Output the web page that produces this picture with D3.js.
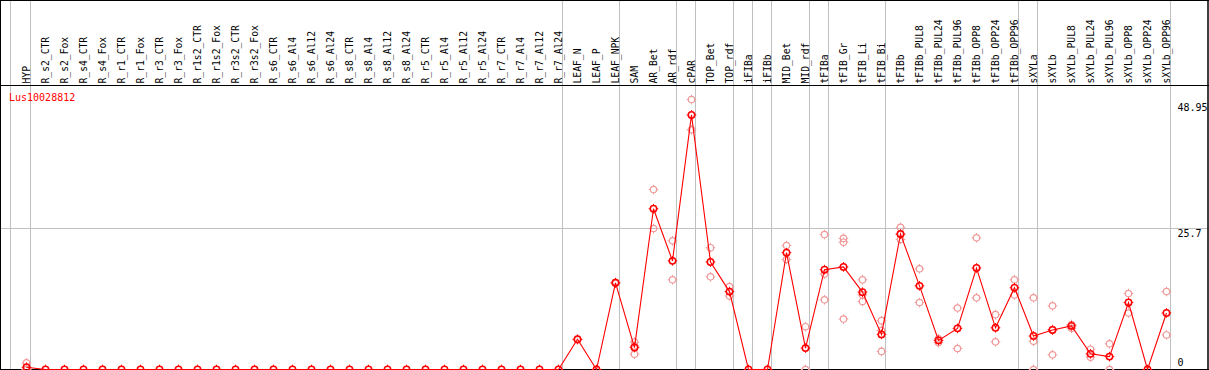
<!DOCTYPE html>
<html><head><meta charset="utf-8">
<script src="https://cdn.jsdelivr.net/npm/d3@7"></script>
<style>html,body{margin:0;padding:0;background:#fff;}svg{display:block;}</style>
</head><body>
<script>
const categories = ["HYP","R_s2_CTR","R_s2_Fox","R_s4_CTR","R_s4_Fox","R_r1_CTR","R_r1_Fox","R_r3_CTR","R_r3_Fox","R_r1s2_CTR","R_r1s2_Fox","R_r3s2_CTR","R_r3s2_Fox","R_s6_CTR","R_s6_Al4","R_s6_Al12","R_s6_Al24","R_s8_CTR","R_s8_Al4","R_s8_Al12","R_s8_Al24","R_r5_CTR","R_r5_Al4","R_r5_Al12","R_r5_Al24","R_r7_CTR","R_r7_Al4","R_r7_Al12","R_r7_Al24","LEAF_N","LEAF_P","LEAF_NPK","SAM","AR_Bet","AR_rdf","cPAR","TOP_Bet","TOP_rdf","iFIBa","iFIBb","MID_Bet","MID_rdf","tFIBa","tFIB_Gr","tFIB_Li","tFIB_Bi","tFIBb","tFIBb_PUL8","tFIBb_PUL24","tFIBb_PUL96","tFIBb_OPP8","tFIBb_OPP24","tFIBb_OPP96","sXYLa","sXYLb","sXYLb_PUL8","sXYLb_PUL24","sXYLb_PUL96","sXYLb_OPP8","sXYLb_OPP24","sXYLb_OPP96"];
const means = [0.4,0,0,0,0,0,0,0,0,0,0,0,0,0,0,0,0,0,0,0,0,0,0,0,0,0,0,0,0,
  5.5,0,15.8,4.0,29.3,19.8,46.4,19.6,14.2,0,0,21.3,3.9,18.2,18.7,14.1,6.4,24.7,15.25,5.3,7.5,18.5,7.6,14.9,6.1,7.2,7.95,2.85,2.35,12.2,0,10.3];
const N = null;
const rep1 = [1.2,N,N,N,N,N,N,N,N,N,N,N,N,N,N,N,N,N,N,N,N,N,N,N,N,N,N,N,N,
  5.5,N,15.9,5.0,32.8,23.45,49.2,22.2,15.1,N,N,22.6,7.8,24.6,23.9,16.35,8.9,25.9,18.35,5.6,11.2,24.0,10.0,16.35,13.07,11.6,8.2,3.7,4.68,13.85,N,14.2];
const rep2 = [0,N,N,N,N,N,N,N,N,N,N,N,N,N,N,N,N,N,N,N,N,N,N,N,N,N,N,N,N,
  5.4,N,15.7,4.3,25.7,16.35,43.7,16.9,13.4,N,N,20.05,0,17.4,23.2,13.6,7.1,24.6,12.2,4.9,3.83,13.07,5.05,13.6,5.17,7.3,7.5,2.25,0,10.3,N,6.3];
const rep3 = [0,N,N,N,N,N,N,N,N,N,N,N,N,N,N,N,N,N,N,N,N,N,N,N,N,N,N,N,N,
  N,N,N,2.8,N,N,N,N,N,N,N,N,N,12.7,9.2,12.4,3.3,23.7,N,N,N,N,N,N,0,2.67,N,N,N,N,N,N];
const groupEnds = [0,28,31,34,35,37,38,39,41,42,45,52,53,60]; // index of last column in each group
const yTicks = [48.95, 25.7, 0];
const geneName = "Lus10028812";

const W = 1209, H = 370;
const svg = d3.select("body").append("svg").attr("width", W).attr("height", H);
const font = "'DejaVu Sans Mono', 'Liberation Mono', monospace";

const x = d3.scaleLinear().domain([0, 60]).range([26.5, 26.5 + 19*60]);
const y = d3.scaleLinear().domain([0, 25.7]).range([369.5, 228.5]);

// group separators
const sepX = [x(0) - 16, ...groupEnds.map(k => x(k) + 4)];
svg.append("g").selectAll("line").data(sepX).join("line")
  .attr("x1", d => d).attr("x2", d => d).attr("y1", 0).attr("y2", H)
  .attr("stroke", "#c0c0c0").attr("stroke-width", 1);

// horizontal gridline at 25.7
svg.append("line").attr("x1", 0).attr("x2", W).attr("y1", y(25.7)).attr("y2", y(25.7))
  .attr("stroke", "#c0c0c0").attr("stroke-width", 1);

// borders
svg.append("line").attr("x1", 0).attr("x2", W).attr("y1", 0.5).attr("y2", 0.5).attr("stroke", "#000");
svg.append("line").attr("x1", 0).attr("x2", W).attr("y1", 85.5).attr("y2", 85.5).attr("stroke", "#000");
svg.append("line").attr("x1", 0.5).attr("x2", 0.5).attr("y1", 0).attr("y2", H).attr("stroke", "#000");
svg.append("line").attr("x1", 1208).attr("x2", 1208).attr("y1", 0).attr("y2", H).attr("stroke", "#000").attr("stroke-width", 1.5);
svg.append("line").attr("x1", 0).attr("x2", W).attr("y1", y(0)).attr("y2", y(0)).attr("stroke", "#000");

// category labels
svg.append("g").selectAll("text").data(categories).join("text")
  .attr("transform", (d, i) => `translate(${x(i) + 3},83.5) rotate(-90)`)
  .attr("font-family", font).attr("font-size", "9.7px").attr("fill", "#000")
  .text(d => d);

// y labels
const yLab = svg.append("g").attr("font-family", font).attr("font-size", "10px").attr("fill", "#000");
yLab.selectAll("text").data(yTicks).join("text")
  .attr("x", 1177.5)
  .attr("y", d => d === 0 ? y(0) - 4 : (d === 25.7 ? y(d) + 8.5 : y(d) + 10))
  .text(d => d);

// gene name
svg.append("text").attr("x", 9).attr("y", 101).attr("font-family", font).attr("font-size", "10px")
  .attr("fill", "#ff0000").text(geneName);

function marker(g, cx, cy, color, sw) {
  const r = 3.2;
  g.append("circle").attr("cx", cx).attr("cy", cy).attr("r", r)
    .attr("fill", "none").attr("stroke", color).attr("stroke-width", sw);
  [[0,-1],[0,1],[-1,0],[1,0]].forEach(([dx, dy]) => {
    g.append("line").attr("x1", cx + dx*r).attr("y1", cy + dy*r)
      .attr("x2", cx + dx*(r+1.6)).attr("y2", cy + dy*(r+1.6))
      .attr("stroke", color).attr("stroke-width", 1);
  });
}

// replicates
const repG = svg.append("g");
[rep1, rep2, rep3].forEach(arr => arr.forEach((v, i) => {
  if (v !== null) marker(repG, x(i), y(v), "#f09a9a", 1.2);
}));

// mean line
const line = d3.line().x((d, i) => x(i)).y(d => y(d));
svg.append("path").datum(means).attr("d", line).attr("fill", "none")
  .attr("stroke", "#ff0000").attr("stroke-width", 1.1);

// means
const mG = svg.append("g");
means.forEach((v, i) => marker(mG, x(i), y(v), "#ff0000", 1.5));
</script>
</body></html>
